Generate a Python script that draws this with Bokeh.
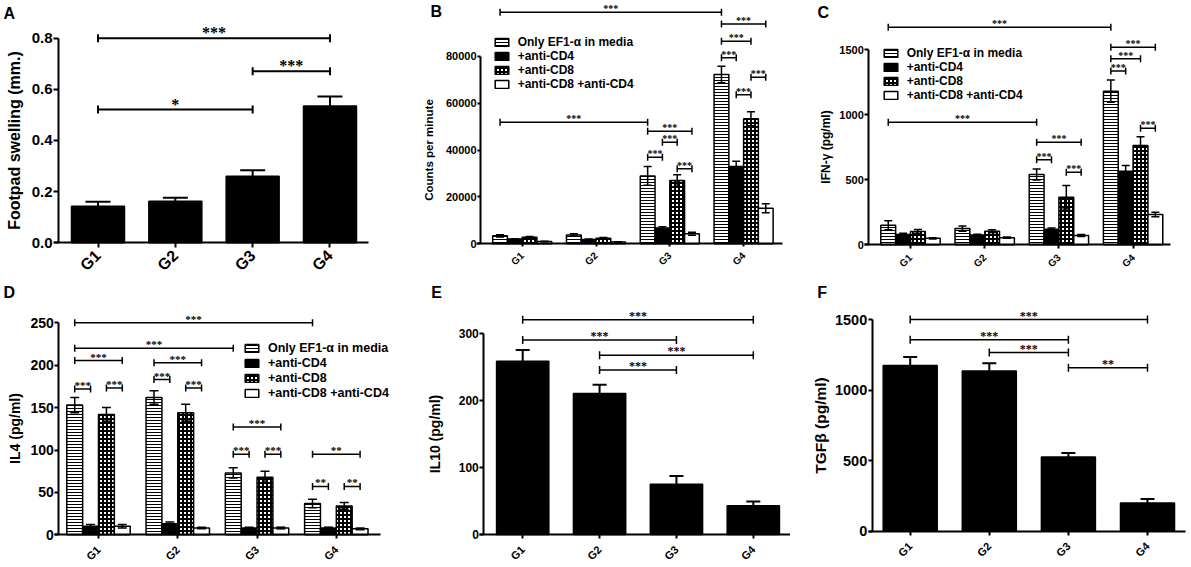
import math
import numpy as np
from bokeh.plotting import figure
from bokeh.models import (Range1d, FixedTicker, ColumnDataSource, Whisker, TeeHead,
                          LabelSet, Label, Legend, LegendItem, NumeralTickFormatter)
from bokeh.layouts import row, column
from bokeh.embed import file_html
from bokeh.resources import INLINE

FONT = "Liberation Sans"

groups = ["G1", "G2", "G3", "G4"]
group_pos = [1, 2, 3, 4]
series_names = ["Only EF1-\u03b1 in media", "+anti-CD4", "+anti-CD8", "+anti-CD8 +anti-CD4"]

# ---------------- A: footpad swelling (mm.)
A_mean = [0.143, 0.162, 0.260, 0.535]
A_sem = [0.017, 0.014, 0.024, 0.037]
A_sig_from = [1, 3, 1]
A_sig_to = [4, 4, 3]
A_sig_y = [0.800, 0.671, 0.521]
A_sig_text = ["***", "***", "*"]

# ---------------- B: counts per minute (series: media, anti-CD4, anti-CD8, both)
B_media = [3400, 3800, 29000, 72300]
B_media_sem = [500, 500, 4000, 3500]
B_cd4 = [2000, 1800, 6800, 33000]
B_cd4_sem = [200, 200, 500, 2300]
B_cd8 = [2800, 2400, 27000, 53400]
B_cd8_sem = [300, 300, 2500, 3000]
B_both = [1000, 800, 4300, 15200]
B_both_sem = [100, 100, 600, 1900]
B_sig_g1 = [1, 4, 4, 4, 4, 4, 1, 3, 3, 3, 3]
B_sig_s1 = [0, 0, 0, 0, 2, 1, 0, 0, 1, 0, 2]
B_sig_g2 = [4, 4, 4, 4, 4, 4, 3, 3, 3, 3, 3]
B_sig_s2 = [0, 3, 2, 1, 3, 2, 0, 3, 2, 1, 3]
B_sig_y = [98900, 93900, 86500, 79400, 71100, 63600, 51900, 48100, 43400, 37000, 32000]
B_sig_text = ["***"] * 11

# ---------------- C: IFN-gamma (pg/ml)
C_media = [150, 125, 541, 1182]
C_media_sem = [35, 20, 42, 85]
C_cd4 = [80, 75, 120, 565]
C_cd4_sem = [8, 6, 10, 45]
C_cd8 = [102, 105, 366, 763]
C_cd8_sem = [15, 10, 90, 68]
C_both = [50, 55, 72, 233]
C_both_sem = [5, 5, 8, 18]
C_sig_g1 = [1, 4, 4, 4, 4, 1, 3, 3, 3]
C_sig_s1 = [0, 0, 0, 0, 2, 0, 0, 0, 2]
C_sig_g2 = [4, 4, 4, 4, 4, 3, 3, 3, 3]
C_sig_s2 = [0, 3, 2, 1, 3, 0, 3, 1, 3]
C_sig_y = [1674, 1520, 1431, 1336, 897, 943, 789, 654, 558]
C_sig_text = ["***"] * 9

# ---------------- D: IL4 (pg/ml)
D_media = [153, 162, 73, 37]
D_media_sem = [9, 8, 6, 5]
D_cd4 = [10, 13, 8, 8]
D_cd4_sem = [2, 2, 1, 1]
D_cd8 = [142, 144, 68, 34]
D_cd8_sem = [8, 10, 7, 4]
D_both = [10, 8, 8, 7]
D_both_sem = [2, 1, 1, 1]
D_sig_g1 = [1, 1, 1, 1, 1, 2, 2, 2, 3, 3, 3, 4, 4, 4]
D_sig_s1 = [0, 0, 0, 0, 2, 0, 0, 2, 0, 0, 2, 0, 0, 2]
D_sig_g2 = [4, 3, 1, 1, 1, 2, 2, 2, 3, 3, 3, 4, 4, 4]
D_sig_s2 = [0, 0, 3, 1, 3, 3, 1, 3, 3, 1, 3, 3, 1, 3]
D_sig_y = [250, 220, 205.5, 172, 173, 203, 183, 173, 127, 95, 95, 95, 57, 57]
D_sig_text = ["***"] * 11 + ["**"] * 3

# ---------------- E: IL10 (pg/ml)
E_mean = [258, 210, 75, 43]
E_sem = [17, 13, 12, 6]
E_sig_from = [1, 1, 2, 2]
E_sig_to = [4, 3, 4, 3]
E_sig_y = [320, 290, 267, 245]
E_sig_text = ["***", "***", "***", "***"]

# ---------------- F: TGF-beta (pg/ml)
F_mean = [1175, 1135, 525, 200]
F_sem = [60, 55, 30, 28]
F_sig_from = [1, 1, 2, 3]
F_sig_to = [4, 3, 3, 4]
F_sig_y = [1500, 1356, 1266, 1158]
F_sig_text = ["***", "***", "***", "**"]

OFFSETS = [-0.3, -0.1, 0.1, 0.3]
STYLES = [
    dict(fill_color="white", hatch_pattern="horizontal_line", hatch_color="black",
         hatch_scale=3, hatch_weight=1),
    dict(fill_color="black"),
    dict(fill_color="white", hatch_pattern="cross", hatch_color="black",
         hatch_scale=4, hatch_weight=2),
    dict(fill_color="white"),
]


def make_panel(geo, yticks, yfmt, ytick_fs, ylabel, ylabel_fs, ylabel_sd,
               xtick_fs, xtick_sd, tick_out=4):
    # geo: canvas size, first-group centre, group spacing (px), axis extents and y scale
    W, H, c1, s, axl, axr, y0, k = geo
    xs = 1 - c1 / s
    xe = xs + W / s
    ye = y0 / k
    ys = -(H - y0) / k
    xf = xs + axl / s
    xr = xs + axr / s
    p = figure(width=W, height=H, x_range=Range1d(xs, xe), y_range=Range1d(ys, ye),
               output_backend="svg", toolbar_location=None,
               min_border=0, min_border_left=0, min_border_right=0, min_border_top=0,
               min_border_bottom=0, background_fill_color="white",
               border_fill_color="white")
    p.outline_line_color = None
    p.xgrid.visible = False
    p.ygrid.visible = False
    xa = p.xaxis[0]
    ya = p.yaxis[0]
    for ax in (xa, ya):
        ax.axis_line_width = 2
        ax.axis_line_color = "black"
        ax.major_tick_line_width = 2
        ax.major_tick_line_color = "black"
        ax.major_tick_in = 0
        ax.major_tick_out = tick_out
        ax.minor_tick_line_color = None
        ax.major_label_text_font = FONT
        ax.major_label_text_font_style = "bold"
        ax.major_label_text_color = "black"
    xa.fixed_location = 0
    xa.bounds = (xf - 4 / s, xr)
    xa.ticker = FixedTicker(ticks=group_pos)
    xa.major_label_overrides = {g: n for g, n in zip(group_pos, groups)}
    xa.major_label_orientation = math.pi / 4
    xa.major_label_text_font_size = f"{xtick_fs}px"
    xa.major_label_standoff = xtick_sd
    ya.fixed_location = xf
    ya.ticker = FixedTicker(ticks=yticks)
    ya.formatter = NumeralTickFormatter(format=yfmt)
    ya.bounds = (0, yticks[-1])
    ya.major_label_text_font_size = f"{ytick_fs}px"
    ya.major_label_standoff = 1
    ya.axis_label = ylabel
    ya.axis_label_text_font = FONT
    ya.axis_label_text_font_style = "bold"
    ya.axis_label_text_font_size = f"{ylabel_fs}px"
    ya.axis_label_standoff = ylabel_sd
    ya.axis_label_text_color = "black"
    return p


def add_errbars(p, x, mean, sem, head, lw):
    mean = np.asarray(mean, float)
    sem = np.asarray(sem, float)
    src = ColumnDataSource(dict(x=list(x), upper=list(mean + sem), lower=list(mean - sem)))
    p.add_layout(Whisker(source=src, base="x", upper="upper", lower="lower",
                         line_color="black", line_width=lw, level="annotation",
                         upper_head=TeeHead(size=head, line_width=lw, line_color="black"),
                         lower_head=TeeHead(size=head, line_width=lw, line_color="black")))


def add_brackets(p, x1, x2, y, text, tee, lw, fs, yoff=0):
    x1 = np.asarray(x1, float)
    x2 = np.asarray(x2, float)
    src = ColumnDataSource(dict(base=list(y), lower=list(x1), upper=list(x2),
                                xm=list((x1 + x2) / 2), text=list(text)))
    p.add_layout(Whisker(source=src, dimension="width", base="base", lower="lower",
                         upper="upper", line_color="black", line_width=lw, level="annotation",
                         upper_head=TeeHead(size=tee, line_width=lw, line_color="black"),
                         lower_head=TeeHead(size=tee, line_width=lw, line_color="black")))
    p.add_layout(LabelSet(source=src, x="xm", y="base", text="text", text_align="center",
                          text_baseline="alphabetic", y_offset=yoff,
                          text_font=FONT, text_font_style="bold",
                          text_font_size=f"{fs}px", text_color="black"))


def add_letter(p, letter, x, y_top):
    p.add_layout(Label(x=x, y=p.height - y_top, x_units="screen", y_units="screen",
                       text=letter, text_font=FONT, text_font_style="bold",
                       text_font_size="16px", text_baseline="top", text_align="left",
                       text_color="black"))


def simple_bars(p, mean, sem, width, head, lw):
    src = ColumnDataSource(dict(x=group_pos, top=mean))
    p.vbar(x="x", top="top", bottom=0, width=width, source=src,
           fill_color="black", line_color="black", line_width=1.5)
    add_errbars(p, group_pos, mean, sem, head, lw)


def grouped_bars(p, series, sems, head, lw):
    rends = []
    for k in range(4):
        x = [g + OFFSETS[k] for g in group_pos]
        src = ColumnDataSource(dict(x=x, top=series[k]))
        r = p.vbar(x="x", top="top", bottom=0, width=0.2, source=src,
                   line_color="black", line_width=1.5, **STYLES[k])
        rends.append(r)
        add_errbars(p, x, series[k], sems[k], head, lw)
    return rends


def add_legend(p, rends, left, bottom_from_top, fs, spacing):
    items = [LegendItem(label=n, renderers=[r]) for n, r in zip(series_names, rends)]
    lg = Legend(items=items, location=(left, p.height - bottom_from_top),
                orientation="vertical", glyph_width=17,
                glyph_height=10, label_standoff=8, padding=0, margin=0, spacing=spacing,
                border_line_color=None, background_fill_alpha=0, label_height=10,
                label_text_font=FONT, label_text_font_style="bold",
                label_text_font_size=f"{fs}px", label_text_color="black")
    p.add_layout(lg)


def grp_x(g, s):
    return [gi + OFFSETS[si] for gi, si in zip(g, s)]


# geometry (canvas px): width, height, first group centre x, group spacing,
# y-axis x, x-axis right end, y=0 line (from top), px per data unit
GEO_A = (400, 280, 97.5, 77.33, 58, 368, 242.3, 255.8)
GEO_B = (390, 280, 121.7, 73.8, 80, 381.7, 243.3, 0.0023417)
GEO_C = (400, 280, 120, 74.2, 78.3, 380, 244.3, 0.13)
GEO_D = (400, 286, 98, 79.27, 58.3, 380, 254.3, 0.848)
GEO_E = (390, 286, 122.2, 76.87, 83.3, 390, 254, 0.6711)
GEO_F = (400, 286, 119.7, 79.1, 81.7, 395, 250.7, 0.14111)

# ---- Panel A
pA = make_panel(GEO_A, [0, 0.2, 0.4, 0.6, 0.8], "0.0", 15, "Footpad swelling (mm.)",
                16, 6, 16, 5, tick_out=5)
simple_bars(pA, A_mean, A_sem, 0.685, 25, 2)
add_brackets(pA, A_sig_from, A_sig_to, A_sig_y, A_sig_text, 8, 2, 16)
add_letter(pA, "A", 3, 4)

# ---- Panel B
pB = make_panel(GEO_B, [0, 20000, 40000, 60000, 80000], "0", 11, "Counts per minute",
                11.5, 8, 10, 7, tick_out=3)
rB = grouped_bars(pB, [B_media, B_cd4, B_cd8, B_both],
                  [B_media_sem, B_cd4_sem, B_cd8_sem, B_both_sem], 8, 1.5)
add_brackets(pB, grp_x(B_sig_g1, B_sig_s1), grp_x(B_sig_g2, B_sig_s2), B_sig_y,
             B_sig_text, 7, 1.5, 10)
add_legend(pB, rB, 92.7, 91, 12, 0)
add_letter(pB, "B", 30, 2)

# ---- Panel C
pC = make_panel(GEO_C, [0, 500, 1000, 1500], "0", 11, "IFN-\u03b3 (pg/ml)", 12, 3, 10, 7)
rC = grouped_bars(pC, [C_media, C_cd4, C_cd8, C_both],
                  [C_media_sem, C_cd4_sem, C_cd8_sem, C_both_sem], 8, 1.5)
add_brackets(pC, grp_x(C_sig_g1, C_sig_s1), grp_x(C_sig_g2, C_sig_s2), C_sig_y,
             C_sig_text, 7, 1.5, 10)
add_legend(pC, rC, 91.7, 102, 12, 0)
add_letter(pC, "C", 27, 3)

# ---- Panel D
pD = make_panel(GEO_D, [0, 50, 100, 150, 200, 250], "0", 14, "IL4 (pg/ml)", 14, 4, 11, 9)
rD = grouped_bars(pD, [D_media, D_cd4, D_cd8, D_both],
                  [D_media_sem, D_cd4_sem, D_cd8_sem, D_both_sem], 9, 1.5)
add_brackets(pD, grp_x(D_sig_g1, D_sig_s1), grp_x(D_sig_g2, D_sig_s2), D_sig_y,
             D_sig_text, 7, 1.5, 11)
add_legend(pD, rD, 243, 120, 12.5, 1)
add_letter(pD, "D", 3, 3)

# ---- Panel E
pE = make_panel(GEO_E, [0, 100, 200, 300], "0", 12, "IL10 (pg/ml)", 14, 12, 11, 9)
simple_bars(pE, E_mean, E_sem, 0.68, 14, 2)
add_brackets(pE, E_sig_from, E_sig_to, E_sig_y, E_sig_text, 8, 1.5, 12)
add_letter(pE, "E", 30.7, 3)

# ---- Panel F
pF = make_panel(GEO_F, [0, 500, 1000, 1500], "0", 14.5, "TGF\u03b2 (pg/ml)", 15.5, 3, 11, 9)
simple_bars(pF, F_mean, F_sem, 0.683, 14, 2)
add_brackets(pF, F_sig_from, F_sig_to, F_sig_y, F_sig_text, 8, 1.5, 12)
add_letter(pF, "F", 26.7, 3)

layout = column(row(pA, pB, pC), row(pD, pE, pF))
open("out.html", "w").write(file_html(layout, INLINE))
